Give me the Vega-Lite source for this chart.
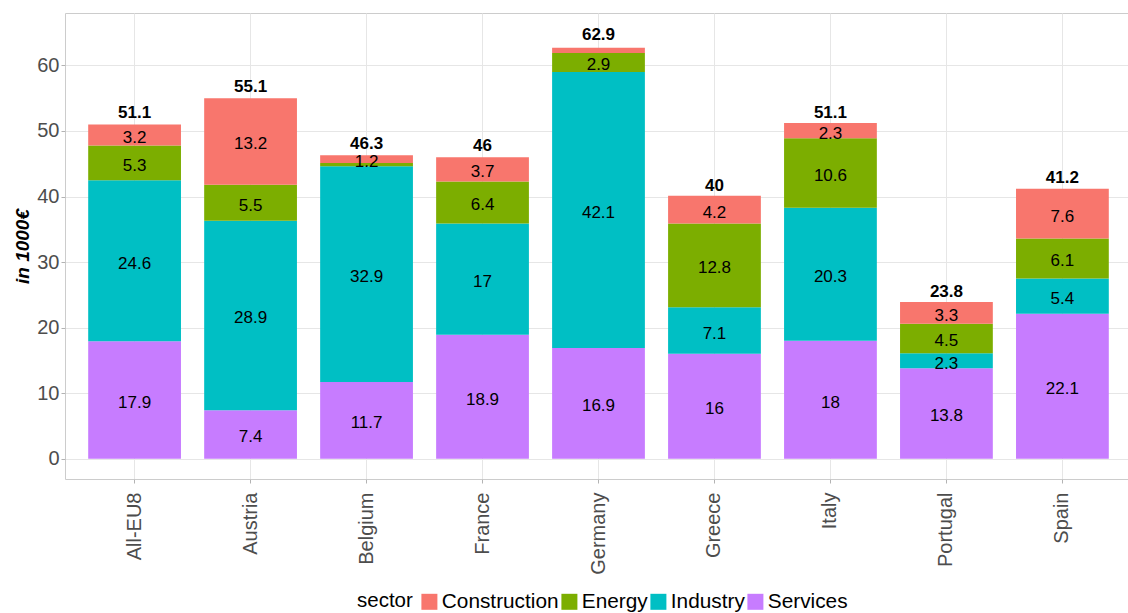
{
  "$schema": "https://vega.github.io/schema/vega-lite/v6.json",
  "width": 1067,
  "height": 466,
  "autosize": {"type": "none"},
  "padding": {"left": 65, "top": 13, "right": -4, "bottom": 134},
  "background": "white",
  "config": {
    "font": "Liberation Sans",
    "view": {"stroke": "#cccccc", "strokeWidth": 1},
    "axis": {"domain": false}
  },
  "datasets": {
    "parts": [
      {"country": "All-EU8", "sector": "Services", "value": 17.9},
      {"country": "All-EU8", "sector": "Industry", "value": 24.6},
      {"country": "All-EU8", "sector": "Energy", "value": 5.3},
      {"country": "All-EU8", "sector": "Construction", "value": 3.2},
      {"country": "Austria", "sector": "Services", "value": 7.4},
      {"country": "Austria", "sector": "Industry", "value": 28.9},
      {"country": "Austria", "sector": "Energy", "value": 5.5},
      {"country": "Austria", "sector": "Construction", "value": 13.2},
      {"country": "Belgium", "sector": "Services", "value": 11.7},
      {"country": "Belgium", "sector": "Industry", "value": 32.9},
      {"country": "Belgium", "sector": "Energy", "value": 0.5},
      {"country": "Belgium", "sector": "Construction", "value": 1.2},
      {"country": "France", "sector": "Services", "value": 18.9},
      {"country": "France", "sector": "Industry", "value": 17},
      {"country": "France", "sector": "Energy", "value": 6.4},
      {"country": "France", "sector": "Construction", "value": 3.7},
      {"country": "Germany", "sector": "Services", "value": 16.9},
      {"country": "Germany", "sector": "Industry", "value": 42.1},
      {"country": "Germany", "sector": "Energy", "value": 2.9},
      {"country": "Germany", "sector": "Construction", "value": 0.8},
      {"country": "Greece", "sector": "Services", "value": 16},
      {"country": "Greece", "sector": "Industry", "value": 7.1},
      {"country": "Greece", "sector": "Energy", "value": 12.8},
      {"country": "Greece", "sector": "Construction", "value": 4.2},
      {"country": "Italy", "sector": "Services", "value": 18},
      {"country": "Italy", "sector": "Industry", "value": 20.3},
      {"country": "Italy", "sector": "Energy", "value": 10.6},
      {"country": "Italy", "sector": "Construction", "value": 2.3},
      {"country": "Portugal", "sector": "Services", "value": 13.8},
      {"country": "Portugal", "sector": "Industry", "value": 2.3},
      {"country": "Portugal", "sector": "Energy", "value": 4.5},
      {"country": "Portugal", "sector": "Construction", "value": 3.3},
      {"country": "Spain", "sector": "Services", "value": 22.1},
      {"country": "Spain", "sector": "Industry", "value": 5.4},
      {"country": "Spain", "sector": "Energy", "value": 6.1},
      {"country": "Spain", "sector": "Construction", "value": 7.6}
    ],
    "totals": [
      {"country": "All-EU8", "total": 51.1},
      {"country": "Austria", "total": 55.1},
      {"country": "Belgium", "total": 46.3},
      {"country": "France", "total": 46},
      {"country": "Germany", "total": 62.9},
      {"country": "Greece", "total": 40},
      {"country": "Italy", "total": 51.1},
      {"country": "Portugal", "total": 23.8},
      {"country": "Spain", "total": 41.2}
    ]
  },
  "encoding": {
    "x": {
      "field": "country",
      "type": "nominal",
      "sort": null,
      "scale": {"paddingInner": 0.2, "paddingOuter": 0.2},
      "axis": {
        "title": null,
        "labelAngle": 270,
        "labelAlign": "right",
        "labelBaseline": "middle",
        "labelFontSize": 20,
        "labelColor": "#4d4d4d",
        "labelPadding": 9,
        "tickColor": "#b3b3b3",
        "tickSize": 4,
        "bandPosition": 0.5,
        "grid": true,
        "gridColor": "#e6e6e6",
        "gridWidth": 1
      }
    }
  },
  "layer": [
    {
      "data": {"name": "parts"},
      "mark": {"type": "bar"},
      "encoding": {
        "y": {
          "field": "value",
          "type": "quantitative",
          "stack": "zero",
          "scale": {"domain": [-3.1, 68], "nice": false, "zero": false},
          "axis": {
            "title": "in 1000€",
            "titleFontSize": 19,
            "titleFontWeight": "bold",
            "titleFontStyle": "italic",
            "titleColor": "#000000",
            "titlePadding": 4,
            "values": [0, 5, 10, 15, 20, 25, 30, 35, 40, 45, 50, 55, 60, 65],
            "labelExpr": "datum.value % 10 === 0 ? datum.label : ''",
            "labelFontSize": 20,
            "labelColor": "#4d4d4d",
            "labelPadding": 2,
            "tickSize": 4,
            "tickColor": {"condition": {"test": "datum.value % 10 === 0", "value": "#b3b3b3"}, "value": "transparent"},
            "grid": true,
            "gridColor": {"condition": {"test": "datum.value % 10 === 0", "value": "#e6e6e6"}, "value": "#f3f3f3"},
            "gridWidth": 1
          }
        },
        "color": {
          "field": "sector",
          "type": "nominal",
          "scale": {
            "domain": ["Construction", "Energy", "Industry", "Services"],
            "range": ["#F8766D", "#7CAE00", "#00BFC4", "#C77CFF"]
          },
          "legend": {
            "title": "sector",
            "orient": "none",
            "direction": "horizontal",
            "legendX": 292,
            "legendY": 578,
            "titleOrient": "left",
            "titleFontSize": 20.5,
            "titleFontWeight": "normal",
            "titleColor": "#000000",
            "titlePadding": 6,
            "titleBaseline": "middle",
            "labelFontSize": 20.8,
            "labelColor": "#000000",
            "labelOffset": 2,
            "columnPadding": 0,
            "symbolType": "square",
            "symbolSize": 256,
            "symbolStrokeWidth": 0,
            "symbolOpacity": 1
          }
        },
        "order": {"field": "sector", "sort": "descending"}
      }
    },
    {
      "data": {"name": "parts"},
      "transform": [
        {"stack": "value", "groupby": ["country"], "sort": [{"field": "sector", "order": "descending"}], "as": ["v0", "v1"]},
        {"calculate": "(datum.v0 + datum.v1) / 2", "as": "mid"},
        {"filter": "datum.value >= 1"}
      ],
      "mark": {"type": "text", "fontSize": 17, "color": "#000000", "baseline": "middle", "dy": 3},
      "encoding": {
        "y": {"field": "mid", "type": "quantitative", "scale": {"domain": [-3.1, 68], "nice": false, "zero": false}},
        "text": {"field": "value", "type": "quantitative"}
      }
    },
    {
      "data": {"name": "totals"},
      "mark": {"type": "text", "fontSize": 17, "fontWeight": "bold", "color": "#000000", "baseline": "middle", "dy": -11},
      "encoding": {
        "y": {"field": "total", "type": "quantitative", "scale": {"domain": [-3.1, 68], "nice": false, "zero": false}},
        "text": {"field": "total", "type": "quantitative"}
      }
    }
  ]
}
